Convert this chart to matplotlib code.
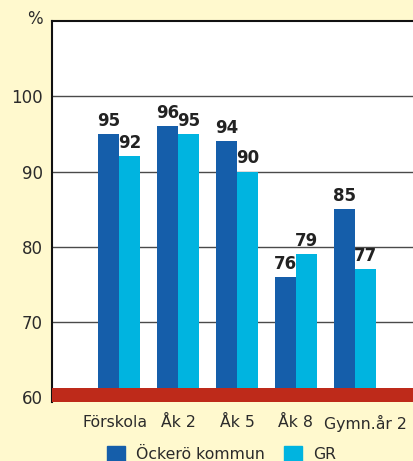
import matplotlib.pyplot as plt
from matplotlib.patches import Patch
from matplotlib.transforms import ScaledTranslation

categories = ["Förskola", "Åk 2", "Åk 5", "Åk 8", "Gymn.år 2"]
ockero = [95, 96, 94, 76, 85]
gr = [92, 95, 90, 79, 77]
yticks = [60, 70, 80, 90, 100]

c_dark = "#155EAA"
c_light = "#00B4E0"
c_red = "#BE2A1A"
c_bg = "#FFF9CE"
c_text = "#2b2b2b"

fig = plt.figure(figsize=(4.14, 4.61), dpi=100, facecolor=c_bg)
ax = fig.add_axes([52/414, 1-402/461, 362/414, (402-21)/461])
ax.set_facecolor("white")

x = list(range(len(categories)))
w = 0.356
b1 = ax.bar([i - w/2 for i in x], [v - 60 for v in ockero], w, bottom=60,
            color=c_dark, zorder=2)
b2 = ax.bar([i + w/2 for i in x], [v - 60 for v in gr], w, bottom=60,
            color=c_light, zorder=2)
ax.bar_label(b1, labels=[str(v) for v in ockero], padding=3,
             fontsize=12, fontweight="bold", color="#222222")
ax.bar_label(b2, labels=[str(v) for v in gr], padding=3,
             fontsize=12, fontweight="bold", color="#222222")

# red base band
ax.axhspan(59.38, 61.23, color=c_red, zorder=3, lw=0)

ax.set_ylim(59.38, 110)
ax.set_xlim(-1.135, 5.0)
ax.set_yticks(yticks)
ax.set_yticklabels([str(v) for v in yticks])
for v in yticks[1:]:
    ax.axhline(v, color="#4a4a4a", lw=1.0, zorder=1)

ax.set_xticks(x)
ax.set_xticklabels(categories)
ax.tick_params(axis="both", length=0, colors=c_text)
ax.tick_params(axis="y", labelsize=12, pad=6.5)
ax.tick_params(axis="x", labelsize=11.3, pad=9)
# nudge the end labels like the original
labs = ax.get_xticklabels()
labs[0].set_transform(labs[0].get_transform() + ScaledTranslation(-4/100, 0, fig.dpi_scale_trans))
labs[-1].set_transform(labs[-1].get_transform() + ScaledTranslation(10/100, 0, fig.dpi_scale_trans))

for s in ["right", "bottom"]:
    ax.spines[s].set_visible(False)
ax.spines["left"].set_color("#111111")
ax.spines["left"].set_linewidth(1.5)
ax.spines["top"].set_color("#111111")
ax.spines["top"].set_linewidth(1.5)

fig.text(43/414, 1-19/461, "%", ha="right", va="center", fontsize=12, color=c_text)

handles = [Patch(color=c_dark), Patch(color=c_light)]
fig.legend(handles, ["Öckerö kommun", "GR"], loc="upper left",
           bbox_to_anchor=(99/414, 1-438/461), ncol=2, frameon=False,
           fontsize=11.3, handlelength=1.15, handleheight=1.15,
           handletextpad=0.7, columnspacing=1.2, borderpad=0,
           labelcolor=c_text)

fig.savefig("out.png", dpi=100, facecolor=c_bg)
